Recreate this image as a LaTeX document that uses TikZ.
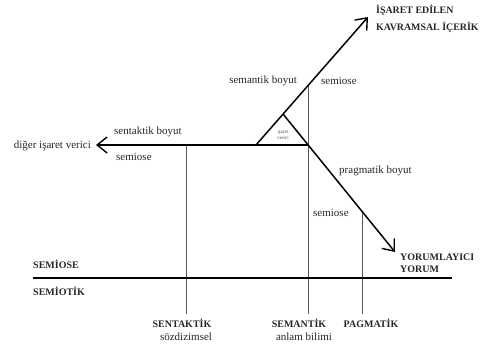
\documentclass[tikz,border=0pt]{standalone}
\usepackage{fontspec}
\setmainfont{Liberation Serif}
\usetikzlibrary{arrows.meta}
\tikzset{
  mainline/.style={line width=1.5pt, black},
  arrowline/.style={mainline, -{Straight Barb[length=10pt,width=16pt,line width=1.4pt]}},
  thinline/.style={line width=0.7pt, black!65},
  lbl/.style={inner sep=0pt, font=\fontsize{11}{12}\selectfont, text=black!85},
  capslbl/.style={inner sep=0pt, font=\fontsize{10}{11}\selectfont\bfseries, text=black!85},
  bigcapslbl/.style={inner sep=0pt, font=\fontsize{9.9}{11}\selectfont\bfseries, text=black!85},
  tinylbl/.style={inner sep=0pt, font=\fontsize{5}{5.5}\selectfont, text=black!70, align=center}
}
\begin{document}
\begin{tikzpicture}[x=1pt,y=-1pt]
\useasboundingbox (0,0) rectangle (484,347);
% key points
\coordinate (L) at (256,145);
\coordinate (U) at (368,17);
\coordinate (A) at (283,114);
\coordinate (R) at (308,145);
\coordinate (P) at (395,252);
\coordinate (D) at (96,145);
% vertical line ends
\coordinate (v1t) at (186,145);
\coordinate (v1b) at (186,314);
\coordinate (v2t) at (308,85.6);
\coordinate (v2b) at (308,314);
\coordinate (v3t) at (362,211);
\coordinate (v3b) at (362,314);
\coordinate (bl) at (33,278);
\coordinate (br) at (452,278);
% thin verticals
\draw[thinline] (v1t) -- (v1b);
\draw[thinline] (v2t) -- (v2b);
\draw[thinline] (v3t) -- (v3b);
% main arrows
\draw[arrowline] (L) -- (U);
\draw[arrowline] (A) -- (P);
\draw[arrowline] (R) -- (D);
\draw[mainline] (bl) -- (br);
% triangle text
\node[tinylbl] (tri) at (283,135) {işaret\\verici};
% labels
\node[bigcapslbl, anchor=west] (isaret) at (376,10) {İŞARET EDİLEN};
\node[bigcapslbl, anchor=west] (kavram) at (376,27) {KAVRAMSAL İÇERİK};
\node[lbl, anchor=east] (semb) at (297,81) {semantik boyut};
\node[lbl, anchor=west] (sem1) at (321,81) {semiose};
\node[lbl, anchor=west] (senb) at (114,132) {sentaktik boyut};
\node[lbl, anchor=east] (diger) at (91,146) {diğer işaret verici};
\node[lbl, anchor=west] (sem2) at (116,157) {semiose};
\node[lbl, anchor=west] (pragb) at (339,171) {pragmatik boyut};
\node[lbl, anchor=west] (sem3) at (313,213) {semiose};
\node[capslbl, anchor=west] (yor1) at (400,257) {YORUMLAYICI};
\node[capslbl, anchor=west] (yor2) at (400,269) {YORUM};
\node[capslbl, anchor=west] (semiose) at (33,264) {SEMİOSE};
\node[capslbl, anchor=west] (semiotik) at (33,291) {SEMİOTİK};
\node[capslbl] (sent) at (182,323) {SENTAKTİK};
\node[lbl] (soz) at (186,337) {sözdizimsel};
\node[capslbl] (seman) at (299,323) {SEMANTİK};
\node[lbl] (anlam) at (304,337) {anlam bilimi};
\node[capslbl] (pag) at (371,323) {PAGMATİK};
\end{tikzpicture}
\end{document}
